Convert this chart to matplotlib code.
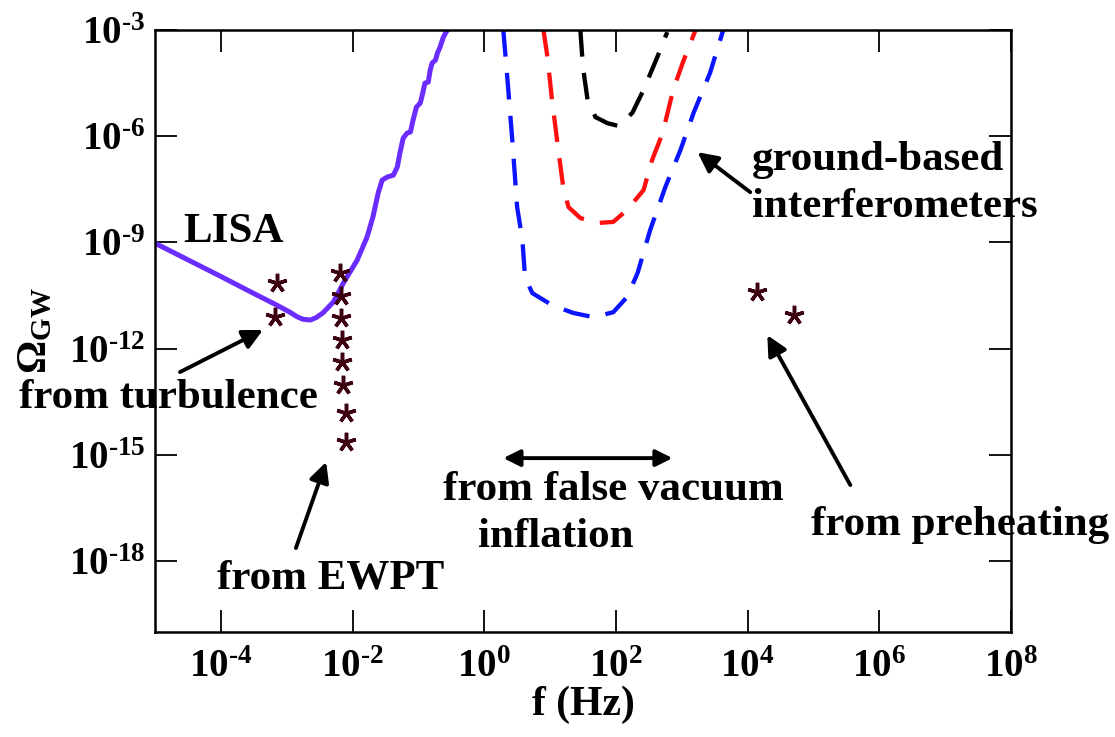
import numpy as np
import matplotlib
matplotlib.use("Agg")
import matplotlib.pyplot as plt
from matplotlib.ticker import FuncFormatter

# ---- data (log10 values) ----
lisa_logf = [-5.0, -4.5, -4.0, -3.5, -3.15, -2.95, -2.84, -2.75, -2.64, -2.55, -2.45,
             -2.29, -2.14, -1.93, -1.78, -1.69, -1.61, -1.55, -1.47, -1.38, -1.32,
             -1.28, -1.23, -1.17, -1.12, -1.08, -1.03, -0.97, -0.93, -0.90, -0.85,
             -0.82, -0.79, -0.74, -0.71, -0.67, -0.62, -0.56]
lisa_logO = [-9.02, -9.49, -9.96, -10.44, -10.77, -10.97, -11.10, -11.17, -11.19, -11.12, -10.99,
             -10.68, -10.15, -9.50, -8.85, -8.28, -7.60, -7.24, -7.15, -7.10, -6.87,
             -6.47, -6.05, -5.91, -5.88, -5.54, -5.18, -5.06, -4.75, -4.50, -4.47,
             -4.13, -3.93, -3.85, -3.65, -3.48, -3.20, -3.0]

blue_logf = [0.29, 0.35, 0.43, 0.50, 0.58, 0.62, 0.73, 1.03, 1.35, 1.66, 1.96,
             2.17, 2.33, 2.52, 2.75, 2.98, 3.18, 3.43, 3.63]
blue_logO = [-3.0, -4.33, -6.19, -8.0, -8.93, -9.98, -10.43, -10.77, -10.99, -11.11, -10.97,
             -10.54, -9.86, -8.65, -7.44, -6.39, -5.34, -4.21, -3.0]

red_logf = [0.90, 0.96, 1.03, 1.12, 1.20, 1.28, 1.46, 1.72, 1.96, 2.17, 2.42,
            2.55, 2.71, 2.87, 3.02, 3.21]
red_logO = [-3.0, -3.76, -4.98, -6.31, -7.44, -8.0, -8.31, -8.45, -8.42, -8.08, -7.52,
            -6.67, -5.91, -4.69, -3.90, -3.0]

black_logf = [1.46, 1.50, 1.57, 1.69, 1.87, 2.04, 2.25, 2.42, 2.63, 2.78]
black_logO = [-3.0, -4.05, -4.98, -5.46, -5.63, -5.71, -5.34, -4.69, -3.76, -3.06]

turb_logf = [-3.15, -3.18]
turb_logO = [-10.15, -11.11]

ewpt_logf = [-2.19, -2.17, -2.17, -2.16, -2.16, -2.14, -2.10, -2.10]
ewpt_logO = [-9.86, -10.51, -11.14, -11.76, -12.38, -13.03, -13.82, -14.64]

preheat_logf = [4.15, 4.70]
preheat_logO = [-10.40, -11.05]

xtick_exp = [-4, -2, 0, 2, 4, 6, 8]
ytick_exp = [-18, -15, -12, -9, -6, -3]


def p(v):
    return 10.0 ** np.asarray(v, dtype=float)


def pow_label(v, pos):
    e = int(round(np.log10(v)))
    s = str(e).replace('-', r'\text{-}')
    return r'$\mathbf{10^{%s}}$' % s


plt.rcParams['font.family'] = ['Liberation Serif', 'DejaVu Serif']
plt.rcParams['font.weight'] = 'bold'
plt.rcParams['mathtext.fontset'] = 'custom'
plt.rcParams['mathtext.rm'] = 'Liberation Serif:bold'
plt.rcParams['mathtext.it'] = 'Liberation Serif:bold:italic'
plt.rcParams['mathtext.bf'] = 'Liberation Serif:bold'

fig = plt.figure(figsize=(11.15, 7.37), dpi=100)
ax = fig.add_axes([0.139, 0.1425, 0.7677, 0.8168])

ax.plot(p(lisa_logf), p(lisa_logO), color='#6a2cff', lw=3.6,
        solid_capstyle='round', solid_joinstyle='round')
dash = (0, (6.2, 3.8))
for xs, ys, c in [(blue_logf, blue_logO, '#0a14ff'),
                  (red_logf, red_logO, '#ff1010'),
                  (black_logf, black_logO, 'black')]:
    ax.plot(p(xs), p(ys), color=c, lw=3.1, linestyle=dash, dash_joinstyle='round')

star = dict(linestyle='none', marker=(5, 2, 0), markersize=14, mew=2.5, color='#3d0010')
ax.plot(p(turb_logf), p(turb_logO), **star)
ax.plot(p(ewpt_logf), p(ewpt_logO), **star)
ax.plot(p(preheat_logf), p(preheat_logO), **star)

ax.set_xscale('log')
ax.set_yscale('log')
ax.set_xlim(1e-5, 1e8)
ax.set_ylim(1e-20, 1e-3)
ax.set_xticks(p(xtick_exp))
ax.set_yticks(p(ytick_exp))
ax.minorticks_off()
ax.xaxis.set_major_formatter(FuncFormatter(pow_label))
ax.yaxis.set_major_formatter(FuncFormatter(pow_label))
ax.tick_params(which='major', direction='in', length=16, width=1.3,
               top=True, right=True, labelsize=28)
ax.tick_params(axis='x', pad=12)
ax.tick_params(axis='y', pad=7)
for s in ax.spines.values():
    s.set_linewidth(1.8)

ax.set_xlabel('f (Hz)', fontsize=30, fontweight='bold', labelpad=0)
ax.set_ylabel(r'$\Omega_{\mathbf{GW}}$', fontsize=30, labelpad=10)

fs = 31
txt = dict(fontsize=fs, fontweight='bold', clip_on=False, zorder=1)
arr = dict(arrowstyle='-|>', color='black', lw=2.8, mutation_scale=30, shrinkA=0, shrinkB=0)

ax.text(p(-4.57), p(-8.71), 'LISA', ha='left', va='center', **txt)
ax.text(p(-4.79), p(-13.40), 'from turbulence', ha='center', va='center', **txt)
ax.annotate('', xy=(p(-3.36), p(-11.47)), xytext=(p(-4.62), p(-12.66)), arrowprops=arr)
ax.text(p(-2.33), p(-18.48), 'from EWPT', ha='center', va='center', **txt)
ax.annotate('', xy=(p(-2.40), p(-15.20)), xytext=(p(-2.86), p(-17.63)), arrowprops=arr)
ax.text(p(1.96), p(-15.99), 'from false vacuum', ha='center', va='center', **txt)
ax.text(p(1.08), p(-17.32), 'inflation', ha='center', va='center', **txt)
ax.annotate('', xy=(p(2.86), p(-15.09)), xytext=(p(0.29), p(-15.09)),
            arrowprops=dict(arrowstyle='<|-|>', color='black', lw=2.8,
                            mutation_scale=25, shrinkA=0, shrinkB=0))
ax.text(p(4.07), p(-6.67), 'ground-based', ha='left', va='center', **txt)
ax.text(p(4.07), p(-8.0), 'interferometers', ha='left', va='center', **txt)
ax.annotate('', xy=(p(3.24), p(-6.45)), xytext=(p(4.04), p(-7.58)), arrowprops=arr)
ax.text(p(7.23), p(-16.98), 'from preheating', ha='center', va='center', **txt)
ax.annotate('', xy=(p(4.30), p(-11.62)), xytext=(p(5.56), p(-15.85)), arrowprops=arr)

fig.savefig('out.png', dpi=100)
